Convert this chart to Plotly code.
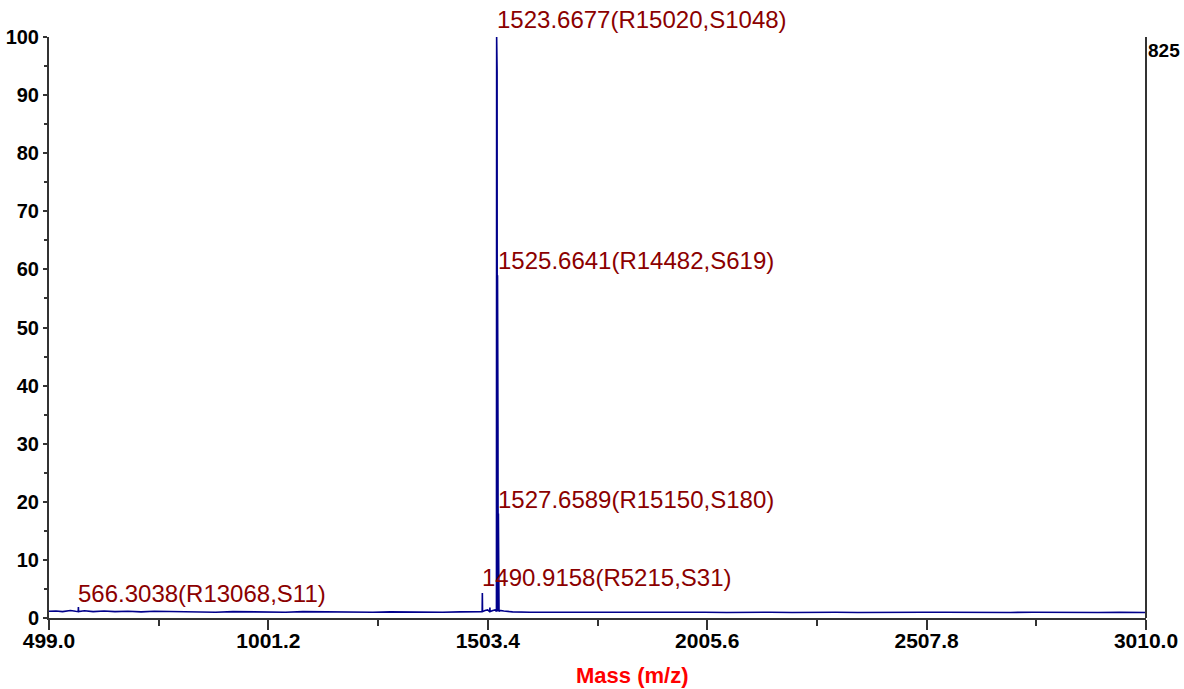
import plotly.graph_objects as go

# ---- data ----
baseline_mz = [499.0, 515.0, 530.0, 548.0, 560.0, 580.0, 600.0, 625.0, 650.0, 680.0, 710.0, 740.0,
               770.0, 800.0, 840.0, 880.0, 920.0, 960.0, 1000.0, 1040.0, 1080.0, 1120.0, 1160.0,
               1200.0, 1240.0, 1280.0, 1320.0, 1360.0, 1400.0, 1440.0, 1470.0, 1485.0, 1497.0,
               1503.0, 1515.0, 1520.0, 1531.0, 1540.0, 1560.0, 1600.0, 1650.0, 1700.0, 1750.0,
               1800.0, 1850.0, 1900.0, 1950.0, 2000.0, 2050.0, 2100.0, 2150.0, 2200.0, 2250.0,
               2300.0, 2350.0, 2400.0, 2450.0, 2500.0, 2550.0, 2600.0, 2650.0, 2700.0, 2750.0,
               2800.0, 2850.0, 2900.0, 2950.0, 3010.0]
baseline_int = [1.15, 1.2, 1.1, 1.3, 1.15, 1.25, 1.1, 1.2, 1.1, 1.15, 1.05, 1.15,
                1.1, 1.05, 1.1, 1.0, 1.1, 1.05, 1.05, 1.0, 1.1, 1.05, 1.0,
                1.05, 1.0, 1.05, 1.0, 1.05, 1.0, 1.05, 1.1, 1.2, 1.3,
                1.4, 1.3, 1.4, 1.3, 1.2, 1.05, 1.0, 1.05, 1.0, 1.0,
                1.05, 1.0, 1.0, 1.05, 1.0, 0.95, 1.0, 1.0, 0.95, 1.0,
                1.0, 0.95, 1.0, 0.95, 1.0, 1.0, 0.95, 1.0, 0.95, 1.0,
                0.95, 1.0, 0.95, 1.0, 0.95]

peak_mz = [566.3038, 1490.9158, 1508.2, 1523.6677, 1524.67, 1525.6641, 1526.66, 1527.6589, 1528.66]
peak_int = [1.9, 4.3, 1.8, 100.0, 94.0, 59.0, 33.0, 18.0, 6.0]

label_mz = [1523.6677, 1525.6641, 1527.6589, 1490.9158, 566.3038]
label_int = [100.0, 59.0, 18.0, 4.3, 1.9]
label_text = ["1523.6677(R15020,S1048)", "1525.6641(R14482,S619)", "1527.6589(R15150,S180)",
              "1490.9158(R5215,S31)", "566.3038(R13068,S11)"]

x_tickvals = [499.0, 1001.2, 1503.4, 2005.6, 2507.8, 3010.0]
y_tickvals = [0, 10, 20, 30, 40, 50, 60, 70, 80, 90, 100]
right_label = "825"

# ---- build the profile trace from the baseline and stick peaks ----
pts = list(zip(baseline_mz, baseline_int))
for m, h in zip(peak_mz, peak_int):
    pts.append((m - 0.45, 1.1))
    pts.append((m, h))
    pts.append((m + 0.45, 1.1))
pts.sort(key=lambda p: p[0])
xs = [p[0] for p in pts]
ys = [p[1] for p in pts]

fig = go.Figure()
fig.add_trace(go.Scatter(x=xs, y=ys, mode="lines",
                         line=dict(color="#00008B", width=1.6),
                         hoverinfo="skip", showlegend=False))

shifts = [2, -1, -2, 0, -2]
for m, h, t, s in zip(label_mz, label_int, label_text, shifts):
    fig.add_annotation(x=m, y=h, text=t, showarrow=False, xanchor="left", yanchor="bottom",
                       yshift=s, xshift=-2,
                       font=dict(family="Liberation Sans, Arial", size=24, color="#8B0000"))

fig.add_annotation(xref="paper", yref="paper", x=0.5315, y=-0.0998, text="<b>Mass (m/z)</b>",
                   showarrow=False, xanchor="center", yanchor="middle",
                   font=dict(family="Liberation Sans, Arial", size=22, color="#FF0000"))
fig.add_annotation(xref="paper", yref="paper", x=1, y=0.976, text="<b>" + right_label + "</b>",
                   showarrow=False, xanchor="left", yanchor="middle", xshift=0,
                   font=dict(family="Liberation Sans, Arial", size=19, color="#000000"))

fig.add_shape(type="line", xref="paper", yref="paper", x0=1, x1=1, y0=0, y1=1,
              line=dict(color="#333333", width=2))

fig.update_layout(
    width=1184, height=689,
    margin=dict(l=49, r=38, t=37, b=71, autoexpand=False),
    paper_bgcolor="white", plot_bgcolor="white",
    showlegend=False,
    xaxis=dict(range=[499.0, 3010.0], tickmode="array", tickvals=x_tickvals,
               ticktext=["%.1f" % v for v in x_tickvals], automargin=False,
               showgrid=False, zeroline=False, showline=True, linecolor="#333333", linewidth=2,
               ticks="outside", ticklen=10, tickwidth=1.5, tickcolor="#333333",
               ticklabelstandoff=-7,
               minor=dict(tickmode="linear", tick0=499.0, dtick=251.1, ticks="outside",
                          ticklen=6, tickwidth=1.5, tickcolor="#333333", showgrid=False),
               tickfont=dict(family="Liberation Sans, Arial", size=21, color="#000000", weight="bold")),
    yaxis=dict(range=[0, 100], tickmode="array", tickvals=y_tickvals, automargin=False,
               showgrid=False, zeroline=False, showline=True, linecolor="#333333", linewidth=2,
               ticks="outside", ticklen=4, tickwidth=1.5, tickcolor="#333333",
               minor=dict(tickmode="linear", tick0=0, dtick=5, ticks="outside",
                          ticklen=3, tickwidth=1.5, tickcolor="#333333", showgrid=False),
               tickfont=dict(family="Liberation Sans, Arial", size=20, color="#000000", weight="bold")),
)

fig.write_html("out.html")
